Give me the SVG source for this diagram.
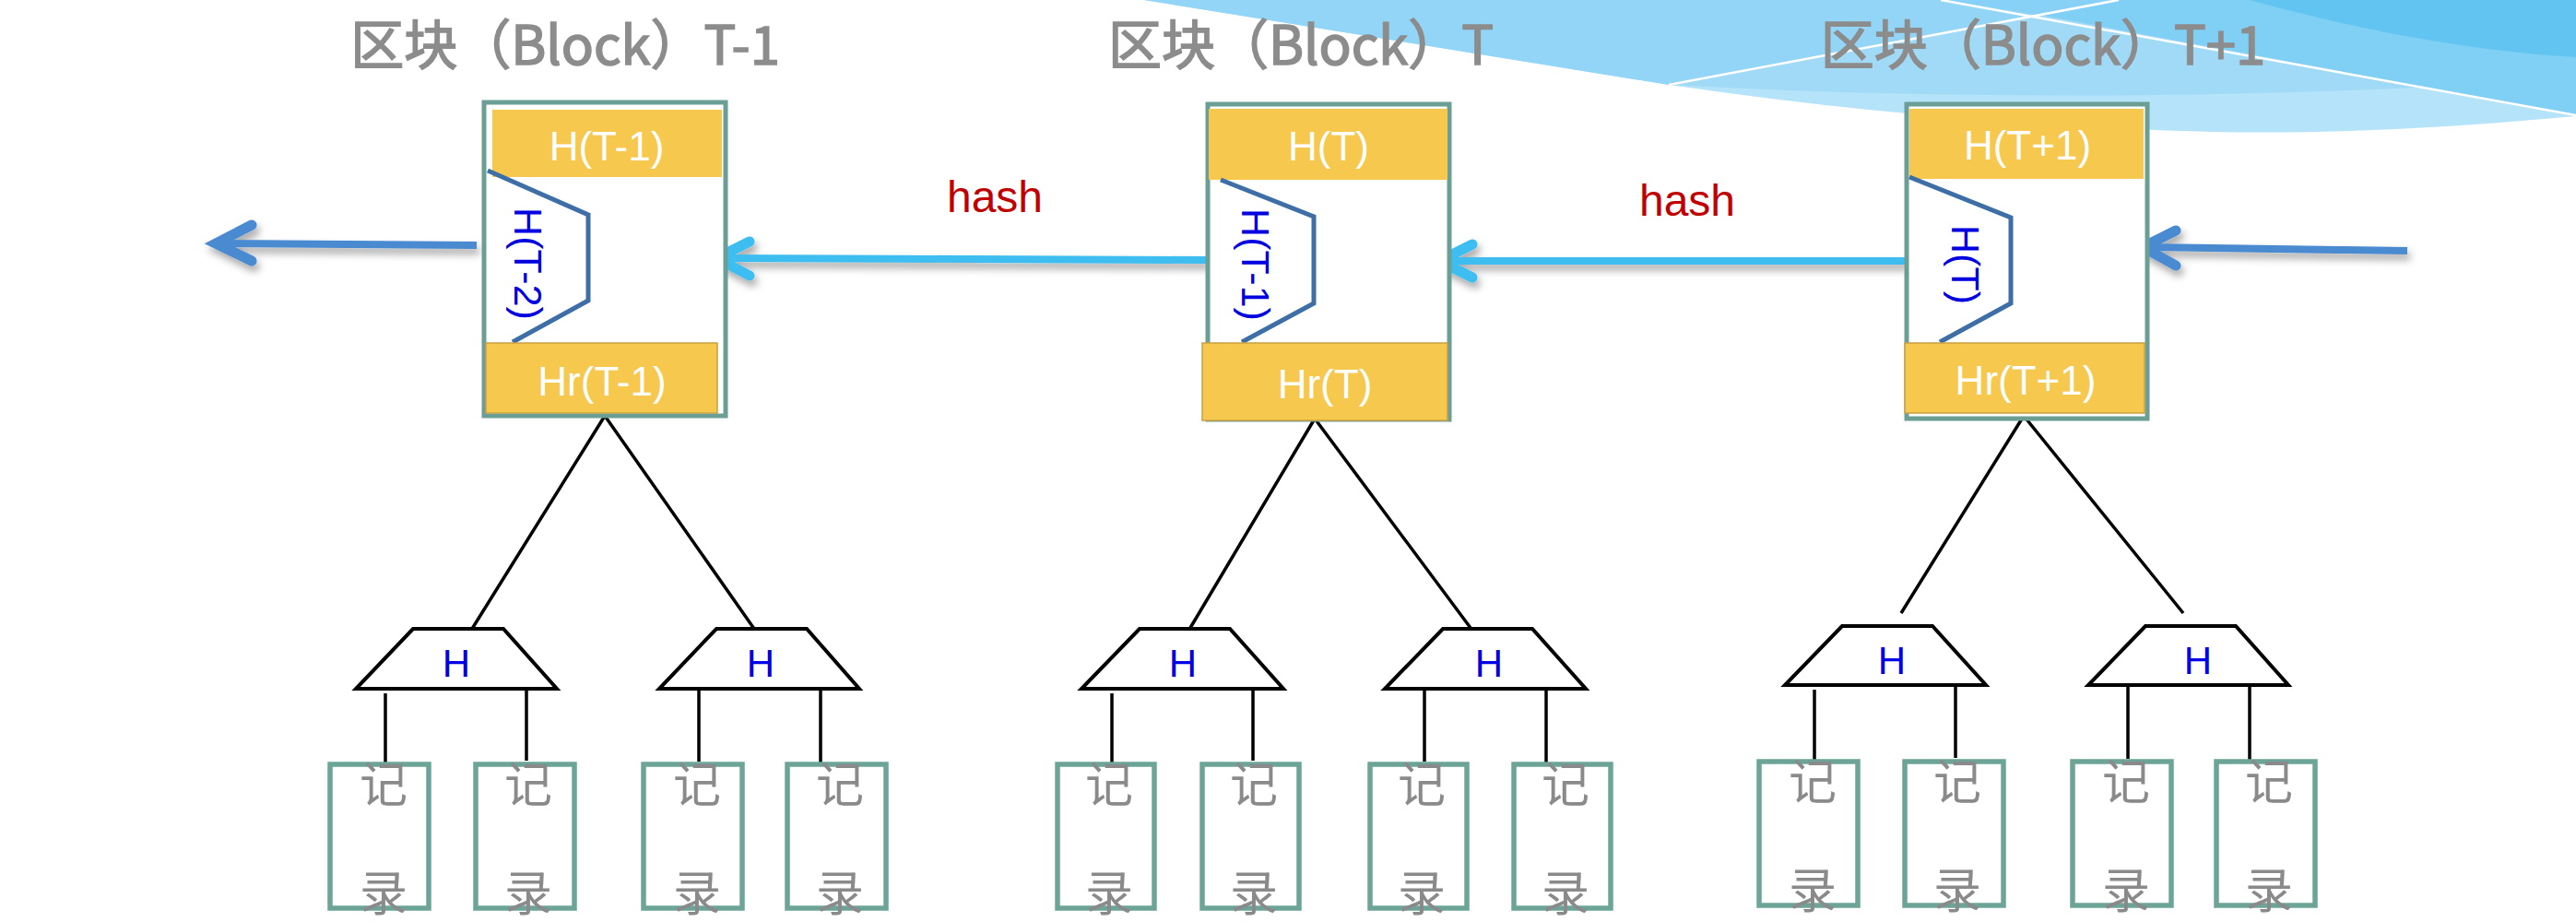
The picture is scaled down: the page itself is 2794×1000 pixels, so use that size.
<svg xmlns="http://www.w3.org/2000/svg" width="2794" height="1000" viewBox="0 0 2794 1000">
<style>
.title{font-family:"Noto Sans CJK SC","Liberation Sans",sans-serif;font-size:58px;fill:#8c8c8c;stroke:#8c8c8c;stroke-width:1.6px;text-anchor:middle}
.outer{fill:#ffffff;stroke:#6b9e95;stroke-width:5}
.ybox{fill:#f7c84e}
.ybox2{fill:#f7c84e;stroke:#c9a043;stroke-width:1.5}
.ytxt{font-family:"Liberation Sans",Arial,sans-serif;font-size:44px;fill:#ffffff;text-anchor:middle}
.trap{fill:none;stroke:#3d6ea6;stroke-width:5;stroke-linejoin:miter}
.vtxt{font-family:"Liberation Sans",Arial,sans-serif;font-size:43px;fill:#0000e0;text-anchor:middle}
.hash{font-family:"Liberation Sans",Arial,sans-serif;font-size:48px;fill:#c00000;text-anchor:middle}
.tree{stroke:#000000;stroke-width:3.5;fill:none}
.htrap{fill:#ffffff;stroke:#000000;stroke-width:4;stroke-linejoin:miter}
.htxt{font-family:"Liberation Sans",Arial,sans-serif;font-size:42px;fill:#0000e6;text-anchor:middle}
.rec{fill:#ffffff;stroke:#6ca598;stroke-width:5.5}
.rtxt{font-family:"Noto Sans CJK SC",sans-serif;font-size:52px;fill:#8a8a8a;text-anchor:middle}
.arrD{stroke:#4a8ad0;fill:none;stroke-width:8}
.arrL{stroke:#3dbdf0;fill:none;stroke-width:8}
.head{stroke-width:11;stroke-linecap:round;stroke-linejoin:miter;stroke-miterlimit:10}
</style>
<defs>
<filter id="sh" x="-20%" y="-100%" width="140%" height="300%">
<feDropShadow dx="3" dy="6" stdDeviation="4" flood-color="#000000" flood-opacity="0.35"/>
</filter>
</defs>
<rect width="2794" height="1000" fill="#ffffff"/>
<g id="background">
<path d="M1241,0 L1810,92 C2000,120 2200,138 2400,143 C2550,146 2680,136 2794,126 L2794,0 Z" fill="#b5e3f9"/>
<path d="M1810,92 L2206,15 L2640,94 C2400,106 2100,108 1810,92 Z" fill="#a0daf7"/>
<path d="M1241,0 L1810,92 L2298,0 Z" fill="#93d5f6"/>
<path d="M2298,0 L2206,15 L2794,125 L2794,0 Z" fill="#80cff4"/>
<path d="M2440,0 C2570,36 2690,56 2794,62 L2794,0 Z" fill="#62c5f1"/>
<path d="M2105,0 L2206,15 L2298,0 Z" fill="#86d1f5"/>
<line x1="1810" y1="92" x2="2298" y2="0" stroke="#ffffff" stroke-width="2.5"/>
<line x1="2105" y1="0" x2="2794" y2="125" stroke="#ffffff" stroke-width="2.5"/>
</g>
<g id="titles">
<text class="title" x="613" y="70">区块（Block）T-1</text>
<text class="title" x="1411" y="70">区块（Block）T</text>
<text class="title" x="2216" y="70">区块（Block）T+1</text>
</g>
<g id="connectors">
<g filter="url(#sh)">
<line class="arrD" x1="517" y1="266" x2="240" y2="264"/>
<polyline class="arrD head" points="273,244 234,264 273,283"/>
<line class="arrL" x1="1310" y1="282" x2="784" y2="280"/>
<polyline class="arrL head" points="813,262 777,280 813,299"/>
<line class="arrL" x1="2067" y1="283" x2="1568" y2="283"/>
<polyline class="arrL head" points="1597,265 1561,283 1597,301"/>
<line class="arrD" x1="2611" y1="272" x2="2330" y2="268"/>
<polyline class="arrD head" points="2360,250 2324,268 2360,288"/>
</g>
<text class="hash" x="1079" y="230">hash</text>
<text class="hash" x="1830" y="234">hash</text>
<path class="tree" d="M656,451 L512,682 M656,451 L818,682"/>
<path class="tree" d="M1426,454 L1291,681 M1426,454 L1595,681"/>
<path class="tree" d="M2195,451 L2062,665 M2195,451 L2368,665"/>
<path class="tree" d="M418,752 V830 M571,747 V825 M758,747 V826 M890,747 V827"/>
<path class="tree" d="M1206,752 V830 M1359,747 V825 M1545,747 V826 M1677,747 V827"/>
<path class="tree" d="M1968,748 V825 M2121,743 V822 M2308,743 V823 M2440,743 V825"/>
</g>
<g id="block-t-1">
<rect class="outer" x="525" y="111" width="262" height="340"/>
<rect class="ybox" x="534" y="119" width="249" height="73"/>
<text class="ytxt" x="658" y="174">H(T-1)</text>
<polyline class="trap" points="529,185 638,233 638,326 556,371"/>
<text class="vtxt" transform="translate(558,286) rotate(90)">H(T-2)</text>
<rect class="ybox2" x="527" y="372" width="251" height="76"/>
<text class="ytxt" x="653" y="429">Hr(T-1)</text>
</g>
<g id="block-t">
<rect class="outer" x="1310" y="113" width="262" height="342"/>
<rect class="ybox" x="1311" y="118" width="259" height="77"/>
<text class="ytxt" x="1441" y="174">H(T)</text>
<polyline class="trap" points="1324,195 1425,235 1425,329 1347,371"/>
<text class="vtxt" transform="translate(1347,287) rotate(90)">H(T-1)</text>
<rect class="ybox2" x="1304" y="372" width="266" height="84"/>
<text class="ytxt" x="1437" y="432">Hr(T)</text>
</g>
<g id="block-t1">
<rect class="outer" x="2068" y="113" width="261" height="341"/>
<rect class="ybox" x="2071" y="118" width="254" height="76"/>
<text class="ytxt" x="2199" y="173">H(T+1)</text>
<polyline class="trap" points="2071,192 2181,236 2181,329 2104,371"/>
<text class="vtxt" transform="translate(2117,287) rotate(90)">H(T)</text>
<rect class="ybox2" x="2066" y="372" width="260" height="76"/>
<text class="ytxt" x="2197" y="428">Hr(T+1)</text>
</g>
<g id="hash-t-1-left"><polygon class="htrap" points="448,682 546,682 604,747 386,747"/><text class="htxt" x="495" y="734">H</text></g>
<g id="hash-t-1-right"><polygon class="htrap" points="777,682 875,682 932,747 715,747"/><text class="htxt" x="825" y="734">H</text></g>
<g id="hash-t-left"><polygon class="htrap" points="1236,682 1334,682 1392,747 1173,747"/><text class="htxt" x="1283" y="734">H</text></g>
<g id="hash-t-right"><polygon class="htrap" points="1565,682 1662,682 1720,747 1502,747"/><text class="htxt" x="1615" y="734">H</text></g>
<g id="hash-t1-left"><polygon class="htrap" points="1998,679 2096,679 2154,743 1936,743"/><text class="htxt" x="2052" y="731">H</text></g>
<g id="hash-t1-right"><polygon class="htrap" points="2327,679 2425,679 2482,743 2265,743"/><text class="htxt" x="2384" y="731">H</text></g>
<g id="rec-1"><rect class="rec" x="358" y="829" width="107" height="156"/><text class="rtxt" x="416" y="870">记</text><text class="rtxt" x="416" y="988">录</text></g>
<g id="rec-2"><rect class="rec" x="516" y="829" width="107" height="156"/><text class="rtxt" x="573" y="870">记</text><text class="rtxt" x="573" y="988">录</text></g>
<g id="rec-3"><rect class="rec" x="698" y="829" width="107" height="156"/><text class="rtxt" x="756" y="870">记</text><text class="rtxt" x="756" y="988">录</text></g>
<g id="rec-4"><rect class="rec" x="854" y="829" width="107" height="156"/><text class="rtxt" x="911" y="870">记</text><text class="rtxt" x="911" y="988">录</text></g>
<g id="rec-5"><rect class="rec" x="1147" y="829" width="105" height="156"/><text class="rtxt" x="1203" y="870">记</text><text class="rtxt" x="1203" y="988">录</text></g>
<g id="rec-6"><rect class="rec" x="1304" y="829" width="105" height="156"/><text class="rtxt" x="1360" y="870">记</text><text class="rtxt" x="1360" y="988">录</text></g>
<g id="rec-7"><rect class="rec" x="1486" y="829" width="105" height="156"/><text class="rtxt" x="1542" y="870">记</text><text class="rtxt" x="1542" y="988">录</text></g>
<g id="rec-8"><rect class="rec" x="1642" y="829" width="105" height="156"/><text class="rtxt" x="1698" y="870">记</text><text class="rtxt" x="1698" y="988">录</text></g>
<g id="rec-9"><rect class="rec" x="1908" y="826" width="107" height="156"/><text class="rtxt" x="1966" y="867">记</text><text class="rtxt" x="1966" y="985">录</text></g>
<g id="rec-10"><rect class="rec" x="2066" y="826" width="107" height="156"/><text class="rtxt" x="2123" y="867">记</text><text class="rtxt" x="2123" y="985">录</text></g>
<g id="rec-11"><rect class="rec" x="2248" y="826" width="107" height="156"/><text class="rtxt" x="2306" y="867">记</text><text class="rtxt" x="2306" y="985">录</text></g>
<g id="rec-12"><rect class="rec" x="2404" y="826" width="107" height="156"/><text class="rtxt" x="2461" y="867">记</text><text class="rtxt" x="2461" y="985">录</text></g>
</svg>
